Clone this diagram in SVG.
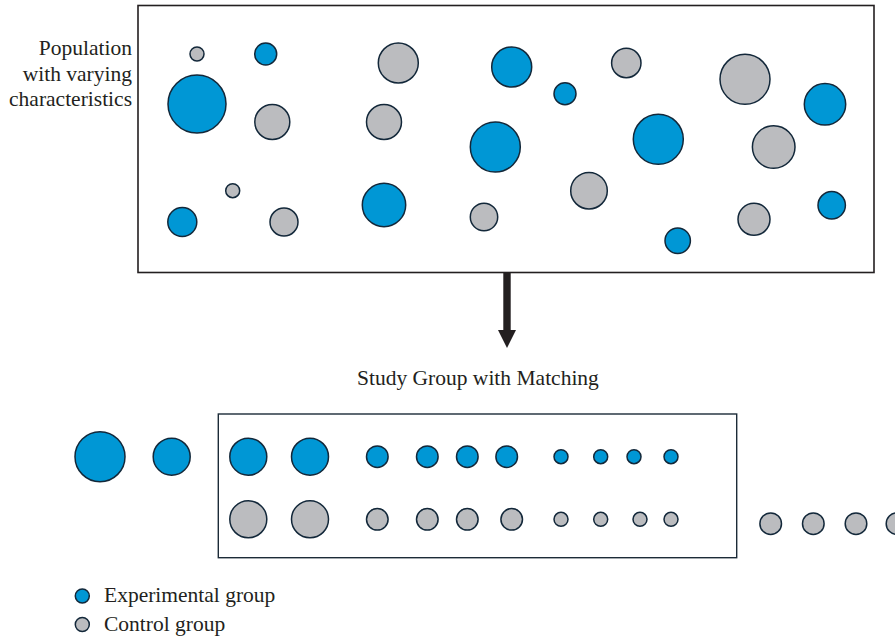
<svg xmlns="http://www.w3.org/2000/svg" width="895" height="639" viewBox="0 0 895 639">
<style>
.e{fill:#0097d5;stroke:#13283a;stroke-width:1.5}
.c{fill:#bbbcbf;stroke:#13283a;stroke-width:1.5}
.box{fill:none;stroke:#231f20;stroke-width:1.6}
.box2{fill:none;stroke:#1c2b38;stroke-width:1.4}
text{font-family:"Liberation Serif","Times New Roman",serif;font-size:21.5px;fill:#231f20}
</style>
<rect width="895" height="639" fill="#fff"/>
<g id="population">
<rect class="box" x="138" y="5.5" width="736" height="267"/>
<text text-anchor="end"><tspan x="132" y="55">Population</tspan><tspan x="132" y="80.5">with varying</tspan><tspan x="132" y="106">characteristics</tspan></text>
<circle class="c" cx="197" cy="54" r="7"/>
<circle class="e" cx="265.7" cy="54" r="11"/>
<circle class="e" cx="197" cy="104" r="29"/>
<circle class="c" cx="272.3" cy="122" r="17.5"/>
<circle class="c" cx="398.3" cy="63" r="20"/>
<circle class="c" cx="384" cy="122" r="17.5"/>
<circle class="e" cx="495.3" cy="147" r="25"/>
<circle class="c" cx="232.7" cy="190.7" r="7"/>
<circle class="e" cx="182.3" cy="222" r="14.5"/>
<circle class="c" cx="284" cy="222" r="14"/>
<circle class="e" cx="384" cy="205" r="21.7"/>
<circle class="c" cx="484" cy="217" r="13.7"/>
<circle class="e" cx="511.7" cy="67" r="20"/>
<circle class="e" cx="565" cy="93.7" r="11"/>
<circle class="c" cx="626.3" cy="63" r="14.7"/>
<circle class="c" cx="745" cy="79.3" r="25"/>
<circle class="e" cx="825" cy="104.3" r="20.7"/>
<circle class="e" cx="658.3" cy="139.3" r="25"/>
<circle class="c" cx="773.7" cy="147" r="21.3"/>
<circle class="c" cx="589" cy="190.7" r="18.3"/>
<circle class="e" cx="677.7" cy="240.7" r="12.7"/>
<circle class="c" cx="754" cy="219.3" r="16"/>
<circle class="e" cx="831.7" cy="205.3" r="13.7"/>
</g>
<g id="connectors">
<rect x="503.3" y="273" width="7.4" height="59" fill="#231f20"/>
<polygon points="498,330 516,330 507,348" fill="#231f20"/>
</g>
<g id="study-group">
<text x="357" y="385">Study Group with Matching</text>
<rect class="box2" x="218.3" y="414" width="518.4" height="143.7"/>
<circle class="e" cx="100" cy="456.7" r="25"/>
<circle class="e" cx="171.7" cy="456.7" r="18.5"/>
<circle class="e" cx="248.3" cy="456.7" r="18.5"/>
<circle class="e" cx="310" cy="456.7" r="18.5"/>
<circle class="e" cx="377.3" cy="456.7" r="10.8"/>
<circle class="e" cx="427.3" cy="456.7" r="10.8"/>
<circle class="e" cx="467.3" cy="456.7" r="10.8"/>
<circle class="e" cx="506.7" cy="456.7" r="10.8"/>
<circle class="e" cx="561" cy="456.7" r="7"/>
<circle class="e" cx="600.7" cy="456.7" r="7"/>
<circle class="e" cx="634" cy="456.7" r="7"/>
<circle class="e" cx="671" cy="456.7" r="7"/>
<circle class="c" cx="248.3" cy="519.3" r="18.5"/>
<circle class="c" cx="310" cy="519.3" r="18.5"/>
<circle class="c" cx="377.3" cy="519.3" r="10.8"/>
<circle class="c" cx="427.3" cy="519.3" r="10.8"/>
<circle class="c" cx="467.3" cy="519.3" r="10.8"/>
<circle class="c" cx="511.7" cy="519.3" r="10.8"/>
<circle class="c" cx="561" cy="519.3" r="7"/>
<circle class="c" cx="600.7" cy="519.3" r="7"/>
<circle class="c" cx="640" cy="519.3" r="7"/>
<circle class="c" cx="671" cy="519.3" r="7"/>
<circle class="c" cx="770.7" cy="523.7" r="10.8"/>
<circle class="c" cx="813.3" cy="523.7" r="10.8"/>
<circle class="c" cx="856" cy="523.7" r="10.8"/>
<circle class="c" cx="897" cy="523.7" r="10.8"/>
</g>
<g id="legend">
<circle class="e" cx="82.3" cy="596" r="7"/>
<text x="104" y="602">Experimental group</text>
<circle class="c" cx="82.3" cy="624.5" r="7"/>
<text x="104" y="630.5">Control group</text>
</g>
</svg>
